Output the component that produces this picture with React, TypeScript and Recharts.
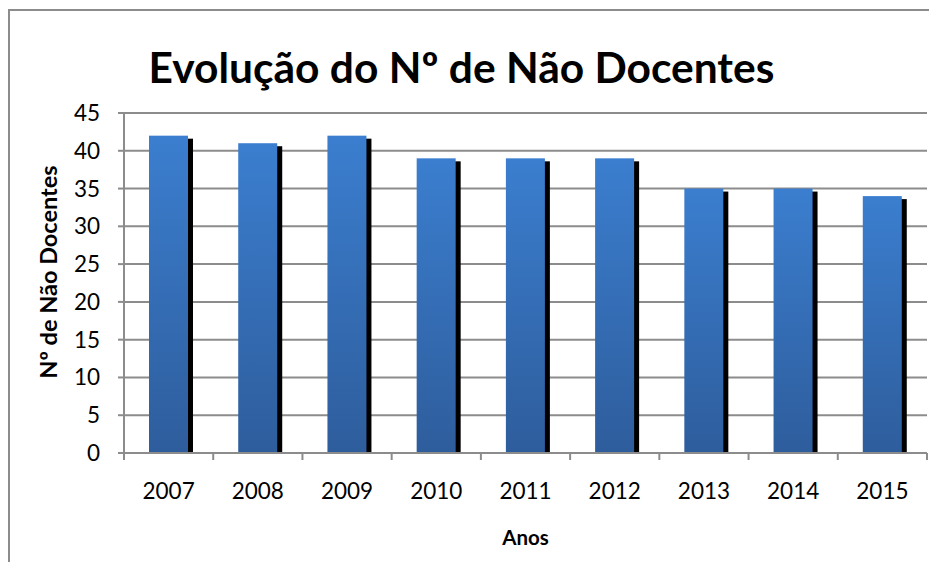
import React from 'react';
import { BarChart, Bar, XAxis, YAxis, CartesianGrid, Label } from 'recharts';

const years = ['2007', '2008', '2009', '2010', '2011', '2012', '2013', '2014', '2015'];
const staff = [42, 41, 42, 39, 39, 39, 35, 35, 34];
const yTicks = [0, 5, 10, 15, 20, 25, 30, 35, 40, 45];

const data = years.map((y, i) => ({ year: y, value: staff[i] }));

const FONT = 'Lato, "Open Sans", sans-serif';
const GRID = '#8c8c8c';

const ShadowBar = (props: any) => {
  const { x, y, width, height } = props;
  if (!height || height <= 0) return null;
  return (
    <g>
      <rect x={x + 5} y={y + 3} width={width} height={Math.max(0, height - 3)} fill="#000" />
      <rect x={x} y={y} width={width} height={height} fill="url(#barGrad)" />
    </g>
  );
};

const XTick = (props: any) => {
  const { x, y, payload, index, visibleTicksCount, width } = props;
  const band = width / visibleTicksCount;
  const left = x - band / 2;
  return (
    <g>
      <line x1={left} y1={y} x2={left} y2={y + 7} stroke={GRID} strokeWidth={2} />
      {index === visibleTicksCount - 1 && (
        <line x1={x + band / 2} y1={y} x2={x + band / 2} y2={y + 7} stroke={GRID} strokeWidth={2} />
      )}
      <text x={x} y={y + 46} textAnchor="middle" fill="#000" fontSize={22.5} fontFamily={FONT}>
        {payload.value}
      </text>
    </g>
  );
};

const YAxisLabel = (props: any) => {
  const vb = props.viewBox || { x: 0, y: 0, width: 0, height: 0 };
  const cx = 40;
  const cy = vb.y + vb.height / 2 - 11;
  return (
    <text
      x={cx}
      y={cy}
      transform={`rotate(-90, ${cx}, ${cy})`}
      textAnchor="middle"
      dominantBaseline="central"
      fontFamily={FONT}
      fontWeight="bold"
      fontSize={23.5}
      fill="#000"
    >
      Nº de Não Docentes
    </text>
  );
};

const XAxisLabel = (props: any) => {
  const vb = props.viewBox || { x: 0, y: 0, width: 0, height: 0 };
  return (
    <text
      x={vb.x + vb.width / 2}
      y={vb.y + 92}
      textAnchor="middle"
      fontFamily={FONT}
      fontWeight="bold"
      fontSize={20.5}
      fill="#000"
    >
      Anos
    </text>
  );
};

export default function App() {
  return (
    <div style={{ position: 'relative', width: 929, height: 554, background: '#fff' }}>
      <div
        style={{
          position: 'absolute',
          left: 0,
          top: 1,
          right: 0,
          bottom: 0,
          borderTop: `2px solid ${GRID}`,
          borderLeft: `2px solid ${GRID}`,
          boxSizing: 'border-box',
        }}
      />
      <div
        style={{
          position: 'absolute',
          left: 0,
          top: 31,
          width: 907,
          textAlign: 'center',
          fontFamily: FONT,
          fontWeight: 'bold',
          fontSize: 42.5,
          lineHeight: '56px',
          color: '#000',
        }}
      >
        Evolução do Nº de Não Docentes
      </div>
      <div style={{ position: 'absolute', left: 0, top: 0 }}>
        <BarChart
          width={929}
          height={554}
          data={data}
          margin={{ top: 105, right: 10, left: 0, bottom: 49 }}
          barSize={39}
        >
          <defs>
            <linearGradient id="barGrad" x1="0" y1="0" x2="0" y2="1">
              <stop offset="0%" stopColor="#3b7ecf" />
              <stop offset="100%" stopColor="#2e5d9c" />
            </linearGradient>
          </defs>
          <CartesianGrid vertical={false} stroke={GRID} strokeWidth={2} />
          <XAxis
            dataKey="year"
            height={60}
            axisLine={{ stroke: GRID, strokeWidth: 2 }}
            tickLine={false}
            tickSize={0}
            tickMargin={0}
            interval={0}
            tick={<XTick />}
          >
            <Label content={<XAxisLabel />} />
          </XAxis>
          <YAxis
            width={116}
            domain={[0, 45]}
            ticks={yTicks}
            interval={0}
            axisLine={{ stroke: GRID, strokeWidth: 2 }}
            tickLine={{ stroke: GRID, strokeWidth: 2 }}
            tickSize={6}
            tickMargin={18}
            tick={{ fill: '#000', fontSize: 22.5, fontFamily: FONT }}
          >
            <Label content={<YAxisLabel />} />
          </YAxis>
          <Bar dataKey="value" shape={<ShadowBar />} isAnimationActive={false} />
        </BarChart>
      </div>
    </div>
  );
}
